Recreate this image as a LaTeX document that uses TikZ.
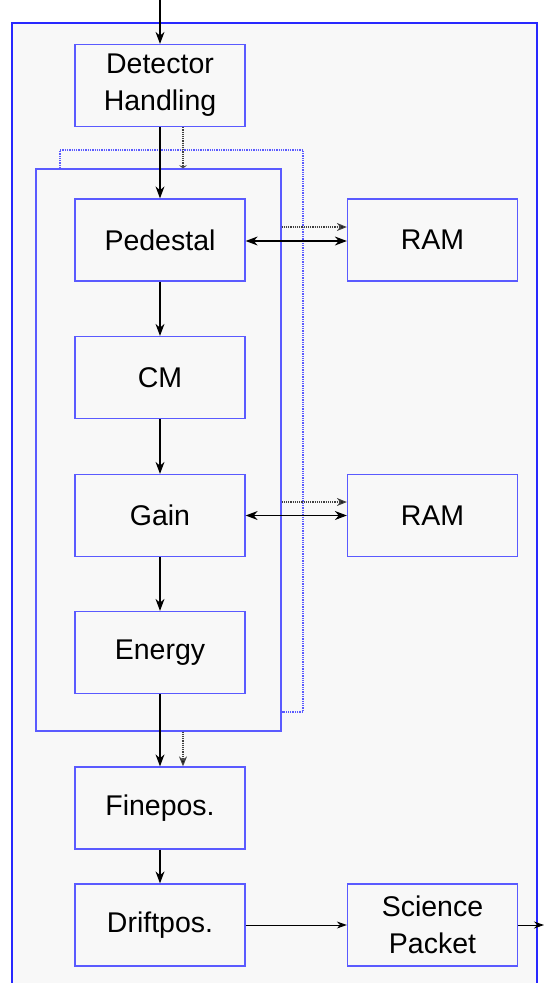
\documentclass[tikz,border=0pt]{standalone}
\usepackage{fontspec}
\setmainfont{Liberation Sans}
\usetikzlibrary{arrows.meta}
\definecolor{boxline}{RGB}{90,90,255}
\definecolor{frameline}{RGB}{40,40,255}
\definecolor{panel}{RGB}{248,248,248}

\begin{document}
\begin{tikzpicture}[x=1pt,y=-1pt,
  stage/.style={draw=boxline, line width=1.3pt, fill=panel,
    minimum width=170pt, minimum height=82pt, inner sep=0pt,
    align=center, font=\fontsize{28.5}{37}\selectfont},
  flow/.style={line width=1.2pt, -{Stealth[length=12pt,width=9pt]}},
  flowboth/.style={line width=1.2pt, {Stealth[length=12pt,width=9pt]}-{Stealth[length=12pt,width=9pt]}},
  thinflow/.style={line width=1pt, -{Stealth[length=10pt,width=7pt]}},
  ctrl/.style={line width=1.2pt, densely dotted, black!75, -{Stealth[length=10pt,width=8pt,fill=black]}},
  ctrlbar/.style={line width=1.2pt, densely dotted, black!75, -{Stealth[length=3pt,width=8pt]}},
  loopline/.style={line width=1.3pt, densely dotted, boxline}
]
\useasboundingbox (0,0) rectangle (544,983);

% processing unit panel (open at the bottom)
\fill[panel] (12,23) rectangle (537,995);
\draw[frameline, line width=1.5pt] (12,995) -- (12,23) -- (537,23) -- (537,995);

% pipeline enclosure
\node[draw=boxline, line width=1.3pt, minimum width=245pt, minimum height=562pt,
      inner sep=0pt] (pipe) at (158.5,450) {};
\draw[loopline] (pipe.north -| 60,0) -- (60,150) -- (303,150) -- (303,712) -- (pipe.east |- 0,712);

% stages
\node[stage] (det) at (160,85.5) {Detector\\Handling};
\node[stage] (ped) at (160,240) {Pedestal};
\node[stage] (cm)  at (160,377.5) {CM};
\node[stage] (gain) at (160,515.5) {Gain};
\node[stage] (en)  at (160,652.5) {Energy};
\node[stage] (fp)  at (160,808) {Finepos.};
\node[stage] (dp)  at (160,925) {Driftpos.};
\node[stage] (ram1) at (432.5,240) {RAM};
\node[stage] (ram2) at (432.5,515.5) {RAM};
\node[stage] (sci) at (432.5,925) {Science\\Packet};

\coordinate (in)  at (160,0);
\coordinate (out) at (544,925);

% data flow
\draw[flow] (in) -- (det.north);
\draw[flow] (det.south) -- (ped.north);
\draw[flow] (ped.south) -- (cm.north);
\draw[flow] (cm.south) -- (gain.north);
\draw[flow] (gain.south) -- (en.north);
\draw[flow] (en.south) -- (fp.north);
\draw[flow] (fp.south) -- (dp.north);
\draw[thinflow] (dp.east) -- (sci.west);
\draw[thinflow] (sci.east) -- (out);

% memory access
\draw[flowboth] ([yshift=-1pt]ped.east) -- ([yshift=-1pt]ram1.west);
\draw[flowboth] ([yshift=0pt]gain.east) -- ([yshift=0pt]ram2.west);

% control signals
\draw[ctrlbar] ([xshift=23pt]det.south) -- ([xshift=23pt]det.south |- pipe.north);
\draw[ctrl] (pipe.east |- 0,227) -- (ram1.west |- 0,227);
\draw[ctrl] (pipe.east |- 0,502) -- (ram2.west |- 0,502);
\draw[ctrl] ([xshift=23pt]fp.north |- pipe.south) -- ([xshift=23pt]fp.north);
\end{tikzpicture}
\end{document}
